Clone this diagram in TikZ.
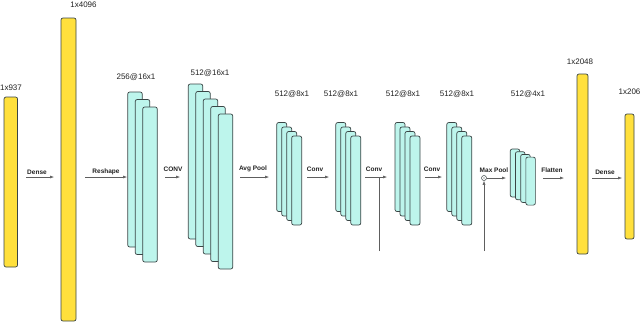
\documentclass[tikz,border=0pt]{standalone}
\usepackage{fontspec}
\setmainfont{Liberation Sans}
\usetikzlibrary{arrows.meta}
\definecolor{yel}{HTML}{FFE03C}
\definecolor{cyn}{HTML}{BDF5EC}
\definecolor{outl}{HTML}{3A4545}
\definecolor{lin}{HTML}{5E5E5E}
\definecolor{txt}{HTML}{222222}
\begin{document}
\begin{tikzpicture}[x=1pt,y=-1pt,
  ybar/.style={draw=outl,fill=yel,rounded corners=2pt,line width=0.7pt,inner sep=0pt,rectangle},
  cbox/.style={draw=outl,fill=cyn,rounded corners=2pt,line width=0.7pt,inner sep=0pt,rectangle},
  arr/.style={draw=lin,line width=0.5pt,-{Latex[length=4pt,width=3pt]}},
  plain/.style={draw=lin,line width=0.5pt},
  dlbl/.style={font=\fontsize{8}{9}\selectfont,text=txt,inner sep=0pt},
  albl/.style={font=\fontsize{6.5}{7}\selectfont\bfseries,text=txt,inner sep=0pt}]
\useasboundingbox (0,0) rectangle (640,322);
% yellow bars
\node[ybar,minimum width=13.5pt,minimum height=170pt] (b1) at (10.8,182) {};
\node[ybar,minimum width=15pt,minimum height=303pt] (b2) at (68.5,169.5) {};
\node[ybar,minimum width=11pt,minimum height=180pt] (b3) at (582.5,164) {};
\node[ybar,minimum width=9pt,minimum height=125pt] (b4) at (629.5,176.5) {};
% stacks
\foreach \i in {0,...,2}
  \node[cbox,minimum width=14.5pt,minimum height=155pt] (A\i) at ({135+7.5*\i},{169.5+7.5*\i}) {};
\foreach \i in {0,...,4}
  \node[cbox,minimum width=14.5pt,minimum height=155pt] (B\i) at ({195.5+7.5*\i},{161.5+7.5*\i}) {};
\foreach \s/\cx in {C/281.7,D/340.8,E/400,F/451.8}
  \foreach \i in {0,...,3}
    \node[cbox,minimum width=10pt,minimum height=89pt] (\s\i) at ({\cx+5*\i},{167+4.5*\i}) {};
\foreach \i in {0,...,3}
  \node[cbox,minimum width=9.5pt,minimum height=48pt] (G\i) at ({515+5.2*\i},{173+2.7*\i}) {};
% dimension labels
\node[dlbl] (l1) at (11,88) {1x937};
\node[dlbl] (l2) at (83.5,4.5) {1x4096};
\node[dlbl] (l3) at (136,77) {256@16x1};
\node[dlbl] (l4) at (210,73) {512@16x1};
\node[dlbl] (l5) at (292,94) {512@8x1};
\node[dlbl] (l6) at (341,94) {512@8x1};
\node[dlbl] (l7) at (403,94) {512@8x1};
\node[dlbl] (l8) at (457,94) {512@8x1};
\node[dlbl] (l9) at (528,94) {512@4x1};
\node[dlbl] (l10) at (580,62) {1x2048};
\node[dlbl] (l11) at (629.5,92) {1x206};
% arrows
\foreach \n/\xa/\xb/\yy/\lx/\ly/\t in {
  da/26/54/177/37/172/Dense,
  rs/85/127/177/106/172/Reshape,
  cv/165/180/177/173/169/CONV,
  ap/240/269/177/253/169/Avg Pool,
  ca/307/329/177/315/169/Conv,
  cb/365/387/177/374/169/Conv,
  cc/425/442/177/432/169/Conv,
  fl/543/564/178/552/170/Flatten,
  db/592/622/178/605/172/Dense}
{
  \coordinate (\n-s) at (\xa,\yy);
  \coordinate (\n-e) at (\xb,\yy);
  \draw[arr] (\n-s) -- (\n-e);
  \node[albl] (\n-l) at (\lx,\ly) {\t};
}
% residual line into conv arrow
\coordinate (rv-s) at (379,251);
\coordinate (rv-e) at (379,177);
\draw[plain] (rv-s) -- (rv-e);
% max pool
\node[draw=outl,line width=0.5pt,circle,minimum size=5pt,inner sep=0pt,fill=white] (mp) at (484,178) {};
\fill[outl] (mp.center) circle (0.7pt);
\coordinate (mp-e) at (506,178);
\draw[arr] (mp) -- (mp-e);
\node[albl] (mp-l) at (494,170) {Max Pool};
\coordinate (mv-s) at (484,251);
\draw[arr] (mv-s) -- (mp);
\end{tikzpicture}
\end{document}
